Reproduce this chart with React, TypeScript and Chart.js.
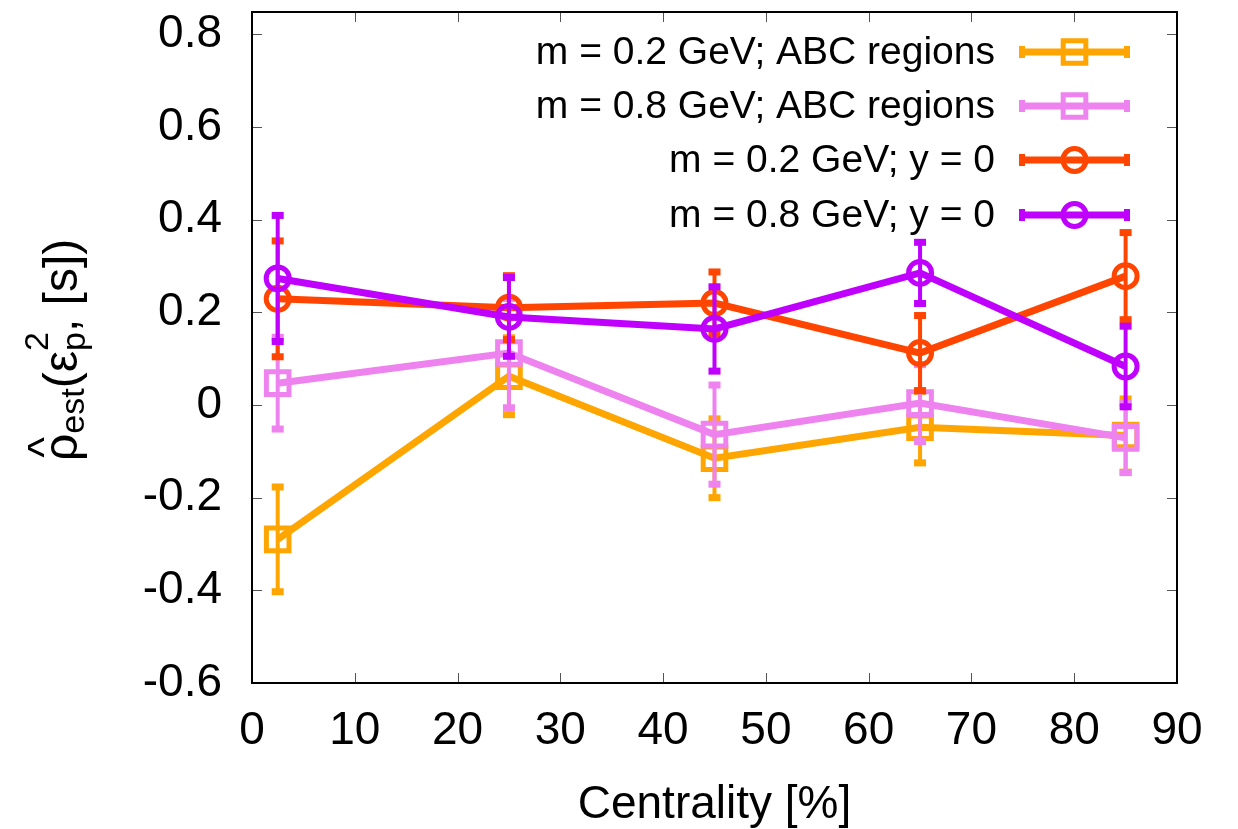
import { useEffect, useRef } from "react";
import { Chart, registerables } from "chart.js";

Chart.register(...registerables);

// Centrality bin centres [%]
const centrality = [2.5, 25, 45, 65, 85];

// m = 0.2 GeV; ABC regions
const rhoAbc02 = [-0.29, 0.062, -0.115, -0.048, -0.066];
const errAbc02 = [0.113, 0.083, 0.085, 0.077, 0.079];

// m = 0.8 GeV; ABC regions
const rhoAbc08 = [0.047, 0.112, -0.064, 0.004, -0.071];
const errAbc08 = [0.099, 0.118, 0.107, 0.083, 0.075];

// m = 0.2 GeV; y = 0
const rhoY02 = [0.229, 0.21, 0.22, 0.112, 0.278];
const errY02 = [0.125, 0.069, 0.067, 0.081, 0.094];

// m = 0.8 GeV; y = 0
const rhoY08 = [0.273, 0.19, 0.164, 0.285, 0.083];
const errY08 = [0.136, 0.085, 0.091, 0.066, 0.087];

const seriesLabels = [
  "m = 0.2 GeV; ABC regions",
  "m = 0.8 GeV; ABC regions",
  "m = 0.2 GeV; y = 0",
  "m = 0.8 GeV; y = 0",
];
const seriesColors = ["#ffa500", "#ee82ee", "#ff4500", "#c000ff"];
const seriesMarkers = ["rect", "rect", "circle", "circle"];
const seriesValues = [rhoAbc02, rhoAbc08, rhoY02, rhoY08];
const seriesErrors = [errAbc02, errAbc08, errY02, errY08];

const xTickValues = [0, 10, 20, 30, 40, 50, 60, 70, 80, 90];
const yTickValues = [-0.6, -0.4, -0.2, 0, 0.2, 0.4, 0.6, 0.8];

const FONT = "'Liberation Sans', Arial, Helvetica, sans-serif";
const W = 1238;
const H = 829;

const LINE_W = 7;
const ERR_W = 4;
const MARK_W = 5;

function markerRadius(style: string) {
  return style === "rect" ? 16 : 11.5;
}

function drawErrorBar(ctx: CanvasRenderingContext2D, x: number, top: number, bot: number, color: string) {
  ctx.save();
  ctx.strokeStyle = color;
  ctx.fillStyle = color;
  ctx.lineWidth = ERR_W;
  ctx.lineCap = "butt";
  ctx.beginPath();
  ctx.moveTo(x, top);
  ctx.lineTo(x, bot);
  ctx.stroke();
  ctx.fillRect(x - 6, top - 3.5, 12, 7);
  ctx.fillRect(x - 6, bot - 3.5, 12, 7);
  ctx.restore();
}

const errorBarPlugin = {
  id: "errorBars",
  beforeDatasetDraw(chart: any, args: any) {
    const ds = chart.data.datasets[args.index];
    const ys = chart.scales.y;
    const ctx = chart.ctx as CanvasRenderingContext2D;
    args.meta.data.forEach((pt: any, i: number) => {
      const v = ds.data[i].y;
      const e = ds.errors[i];
      drawErrorBar(ctx, pt.x, ys.getPixelForValue(v + e), ys.getPixelForValue(v - e), ds.borderColor);
    });
  },
};

const framePlugin = {
  id: "frame",
  afterDatasetsDraw(chart: any) {
    const ctx = chart.ctx as CanvasRenderingContext2D;
    const { left, right, top, bottom } = chart.chartArea;
    const xs = chart.scales.x;
    const ys = chart.scales.y;
    ctx.save();
    ctx.strokeStyle = "#555";
    ctx.lineWidth = 1;
    ctx.beginPath();
    xTickValues.forEach((v) => {
      const px = Math.round(xs.getPixelForValue(v)) + 0.5;
      if (px <= left + 2 || px >= right - 2) return;
      ctx.moveTo(px, bottom);
      ctx.lineTo(px, bottom - 10);
      ctx.moveTo(px, top);
      ctx.lineTo(px, top + 10);
    });
    yTickValues.forEach((v) => {
      const py = Math.round(ys.getPixelForValue(v)) + 0.5;
      if (py <= top + 2 || py >= bottom - 2) return;
      ctx.moveTo(left, py);
      ctx.lineTo(left + 10, py);
      ctx.moveTo(right, py);
      ctx.lineTo(right - 10, py);
    });
    ctx.stroke();
    ctx.strokeStyle = "#000";
    ctx.lineWidth = 2;
    ctx.strokeRect(left, top, right - left, bottom - top);
    ctx.restore();
  },
};

const titlesPlugin = {
  id: "titlesAndKey",
  afterDraw(chart: any) {
    const ctx = chart.ctx as CanvasRenderingContext2D;
    const { left, right } = chart.chartArea;
    ctx.save();
    ctx.fillStyle = "#000";

    // x-axis title
    ctx.font = `46px ${FONT}`;
    ctx.textAlign = "center";
    ctx.textBaseline = "alphabetic";
    ctx.fillText("Centrality [%]", (left + right) / 2, 818);

    // y-axis title: rho-hat_est(epsilon_p^2, [s]), rotated
    ctx.save();
    ctx.translate(77, 461);
    ctx.rotate(-Math.PI / 2);
    ctx.textAlign = "left";
    const main = `48px ${FONT}`;
    const small = `34px ${FONT}`;
    let cx = 0;
    ctx.font = main;
    ctx.fillText("ρ", cx, 0);
    const rhoW = ctx.measureText("ρ").width;
    ctx.save();
    ctx.font = `44px ${FONT}`;
    ctx.textAlign = "center";
    ctx.fillText("^", cx + rhoW / 2, -18);
    ctx.restore();
    cx += rhoW;
    ctx.font = small;
    ctx.fillText("est", cx, 7);
    cx += ctx.measureText("est").width;
    ctx.font = main;
    ctx.fillText("(", cx, 0);
    cx += ctx.measureText("(").width;
    ctx.fillText("ε", cx, 0);
    cx += ctx.measureText("ε").width;
    ctx.font = small;
    ctx.fillText("2", cx, -29);
    ctx.fillText("p", cx, 8);
    cx += Math.max(ctx.measureText("2").width, ctx.measureText("p").width);
    ctx.font = main;
    ctx.fillText(", [s])", cx, 0);
    ctx.restore();

    // key, text right-aligned with sample to its right
    const rowsY = [52, 106, 160, 215];
    const textRight = 995;
    const lineL = 1022;
    const lineR = 1127;
    const mid = (lineL + lineR) / 2;
    seriesLabels.forEach((label, i) => {
      const y = rowsY[i];
      const color = seriesColors[i];
      ctx.font = `39px ${FONT}`;
      ctx.textAlign = "right";
      ctx.textBaseline = "middle";
      ctx.fillStyle = "#000";
      ctx.fillText(label, textRight, y + 1);
      ctx.strokeStyle = color;
      ctx.fillStyle = color;
      ctx.lineWidth = LINE_W;
      ctx.beginPath();
      ctx.moveTo(lineL, y);
      ctx.lineTo(lineR, y);
      ctx.stroke();
      ctx.fillRect(lineL - 3, y - 6, 6, 12);
      ctx.fillRect(lineR - 3, y - 6, 6, 12);
      ctx.lineWidth = MARK_W;
      ctx.beginPath();
      if (seriesMarkers[i] === "rect") {
        const s = markerRadius("rect") * Math.SQRT1_2;
        ctx.rect(mid - s, y - s, 2 * s, 2 * s);
      } else {
        ctx.arc(mid, y, markerRadius("circle"), 0, Math.PI * 2);
      }
      ctx.stroke();
    });
    ctx.restore();
  },
};

export default function App() {
  const canvasRef = useRef<HTMLCanvasElement | null>(null);

  useEffect(() => {
    if (!canvasRef.current) return;
    const datasets = seriesLabels.map((label, i) => ({
      label,
      data: centrality.map((x, j) => ({ x, y: seriesValues[i][j] })),
      errors: seriesErrors[i],
      borderColor: seriesColors[i],
      backgroundColor: seriesColors[i],
      borderWidth: LINE_W,
      pointStyle: seriesMarkers[i],
      pointRadius: markerRadius(seriesMarkers[i]),
      pointBorderWidth: MARK_W,
      pointBorderColor: seriesColors[i],
      pointBackgroundColor: "rgba(0,0,0,0)",
      tension: 0,
      fill: false,
      order: seriesLabels.length - 1 - i,
    }));

    const chart = new Chart(canvasRef.current, {
      type: "line",
      data: { datasets } as any,
      plugins: [errorBarPlugin, framePlugin, titlesPlugin],
      options: {
        animation: false,
        responsive: false,
        devicePixelRatio: 1,
        layout: { autoPadding: false, padding: { top: 12, right: 61, left: 0, bottom: 0 } },
        plugins: { legend: { display: false }, tooltip: { enabled: false } },
        scales: {
          x: {
            type: "linear",
            min: 0,
            max: 90,
            afterBuildTicks: (s: any) => {
              s.ticks = xTickValues.map((value) => ({ value }));
            },
            afterFit: (s: any) => {
              s.height = H - 683;
              s.paddingLeft = 0;
              s.paddingRight = 0;
            },
            grid: { display: false, drawTicks: false },
            border: { display: false },
            ticks: {
              padding: 21,
              color: "#000",
              font: { family: FONT, size: 46 },
              maxRotation: 0,
              autoSkip: false,
            },
          },
          y: {
            type: "linear",
            min: -0.6,
            max: 0.848,
            afterBuildTicks: (s: any) => {
              s.ticks = yTickValues.map((value) => ({ value }));
            },
            afterFit: (s: any) => {
              s.width = 252;
              s.paddingTop = 0;
              s.paddingBottom = 0;
            },
            grid: { display: false, drawTicks: false },
            border: { display: false },
            ticks: {
              padding: 30,
              color: "#000",
              font: { family: FONT, size: 46 },
              autoSkip: false,
              callback: (v: any) => String(Math.round(Number(v) * 10) / 10),
            },
          },
        },
      } as any,
    });
    return () => chart.destroy();
  }, []);

  return (
    <canvas
      ref={canvasRef}
      width={W}
      height={H}
      style={{ position: "absolute", left: 0, top: 0, width: W, height: H, display: "block", background: "#fff" }}
    />
  );
}
